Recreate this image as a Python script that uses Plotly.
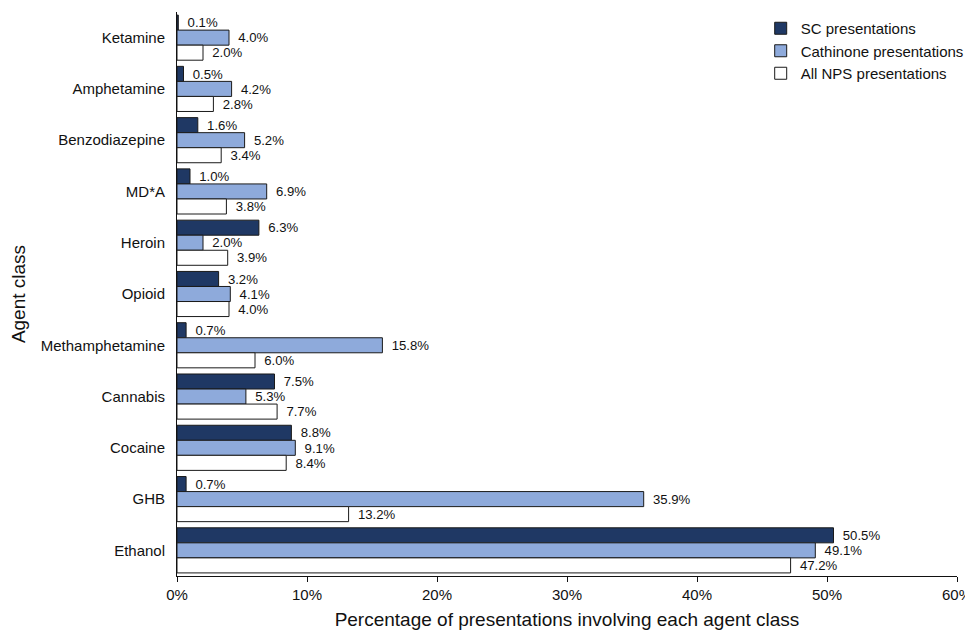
import plotly.graph_objects as go

categories = ["Ketamine", "Amphetamine", "Benzodiazepine", "MD*A", "Heroin", "Opioid",
              "Methamphetamine", "Cannabis", "Cocaine", "GHB", "Ethanol"]
sc_values = [0.1, 0.5, 1.6, 1.0, 6.3, 3.2, 0.7, 7.5, 8.8, 0.7, 50.5]
cathinone_values = [4.0, 4.2, 5.2, 6.9, 2.0, 4.1, 15.8, 5.3, 9.1, 35.9, 49.1]
nps_values = [2.0, 2.8, 3.4, 3.8, 3.9, 4.0, 6.0, 7.7, 8.4, 13.2, 47.2]
x_ticks = [0, 10, 20, 30, 40, 50, 60]
x_tick_labels = ["0%", "10%", "20%", "30%", "40%", "50%", "60%"]

series = [
    ("SC presentations", sc_values, "#1f3864"),
    ("Cathinone presentations", cathinone_values, "#8eaadb"),
    ("All NPS presentations", nps_values, "#ffffff"),
]

fig = go.Figure()
for name, vals, color in series:
    fig.add_trace(go.Bar(
        name=name, y=categories, x=vals, orientation="h",
        marker=dict(color=color, line=dict(color="#1a1a1a", width=1)),
        texttemplate="\u00a0\u2009%{x:.1f}%", textposition="outside",
        textfont=dict(size=14, color="#111111"),
        cliponaxis=False,
    ))

fig.update_layout(
    width=965, height=622,
    margin=dict(l=169, r=16, t=4, b=54),
    paper_bgcolor="white", plot_bgcolor="white",
    barmode="group", bargap=0.12, bargroupgap=0,
    font=dict(family="Liberation Sans, Arial, sans-serif", size=15, color="#111111"),
    legend=dict(x=1.015, y=1.0, xanchor="right", yanchor="top",
                font=dict(size=15), bgcolor="rgba(0,0,0,0)",
                traceorder="normal", tracegroupgap=0),
    showlegend=True,
)
fig.update_xaxes(
    range=[0, 60], tickvals=x_ticks, ticktext=x_tick_labels,
    showline=True, linecolor="#111111", linewidth=1,
    ticks="outside", ticklen=5, tickcolor="#111111",
    showgrid=False, zeroline=False, automargin=False,
    title=dict(text="Percentage of presentations involving each agent class",
               font=dict(size=19), standoff=14),
    tickfont=dict(size=15),
)
fig.update_yaxes(
    autorange="reversed",
    showline=True, linecolor="#111111", linewidth=1,
    ticks="", showgrid=False, zeroline=False, automargin=False,
    ticklabelstandoff=8,
    title=dict(text="Agent class", font=dict(size=19), standoff=12),
    tickfont=dict(size=15),
)

fig.write_html("out.html")
